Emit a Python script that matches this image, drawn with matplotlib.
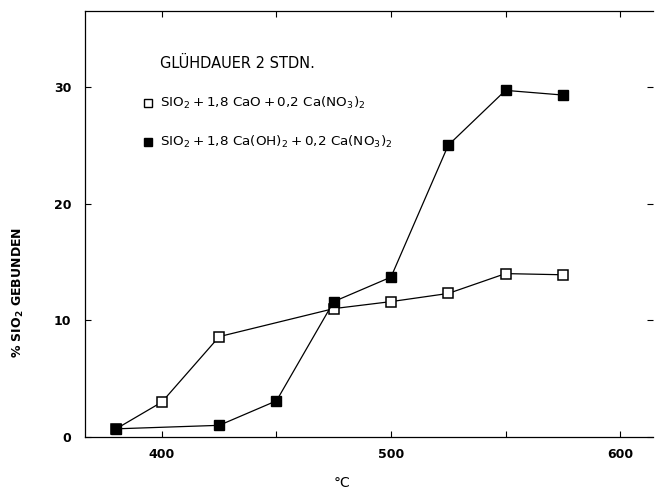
import matplotlib
matplotlib.use("Agg")
import matplotlib.pyplot as plt
from matplotlib.ticker import MultipleLocator

# Glow temperature (°C) and percentage of bound SiO2
temp_cao = [380, 400, 425, 475, 500, 525, 550, 575]
sio2_cao = [0.7, 3.0, 8.6, 11.0, 11.6, 12.3, 14.0, 13.9]

temp_caoh = [380, 425, 450, 475, 500, 525, 550, 575]
sio2_caoh = [0.7, 1.0, 3.1, 11.6, 13.7, 25.0, 29.7, 29.3]

x_ticks = [400, 500, 600]
y_ticks = [0, 10, 20, 30]

title_text = "GLÜHDAUER 2 STDN."
label_cao = r"$\mathregular{SIO_2 + 1{,}8\ CaO + 0{,}2\ Ca(NO_3)_2}$"
label_caoh = r"$\mathregular{SIO_2 + 1{,}8\ Ca(OH)_2 + 0{,}2\ Ca(NO_3)_2}$"

plt.rcParams["font.family"] = ["DejaVu Sans"]

fig = plt.figure(figsize=(6.55, 4.94), dpi=100)
ax = fig.add_axes([85 / 655, 1 - 437 / 494, (653 - 85) / 655, (437 - 11) / 494])

ax.plot(temp_cao, sio2_cao, color="black", lw=0.9, marker="s", ms=6.5,
        mfc="white", mec="black", mew=1.1, zorder=3)
ax.plot(temp_caoh, sio2_caoh, color="black", lw=0.9, marker="s", ms=6.5,
        mfc="black", mec="black", zorder=4)

ax.set_xlim(366.4, 614.4)
ax.set_ylim(0, 36.5)
ax.set_xticks(x_ticks)
ax.set_yticks(y_ticks)
ax.xaxis.set_minor_locator(MultipleLocator(50))

ax.tick_params(axis="both", which="both", direction="in", length=4,
               width=0.8, top=True, right=True, labelsize=9)
ax.tick_params(axis="x", pad=8)
ax.tick_params(axis="y", pad=10)
for lab in ax.get_xticklabels() + ax.get_yticklabels():
    lab.set_fontweight("bold")

ax.spines["right"].set_visible(False)
for side in ("left", "bottom", "top"):
    ax.spines[side].set_linewidth(0.9)

ax.set_xlabel("°C", fontsize=10, va="center")
ax.xaxis.set_label_coords((342 - 85) / (653 - 85), -(483 - 437) / (437 - 11))
ax.set_ylabel(r"% $\mathregular{SIO_2}$ GEBUNDEN", fontsize=9, fontweight="bold",
              va="center")
ax.yaxis.set_label_coords(-(85 - 18) / (653 - 85), (437 - 292) / (437 - 11))


# Hand-drawn style key inside the plot
def px(x, y):
    return fig.transFigure.inverted().transform(
        fig.dpi_scale_trans.transform((x / 100, (494 - y) / 100)))


tx, ty = px(160, 63)
fig.text(tx, ty, title_text, fontsize=10.5, va="center", ha="left")

mx, my = px(148, 103)
ax.plot([mx], [my], transform=fig.transFigure, marker="s", ms=5.5,
        mfc="white", mec="black", mew=1.0, ls="none")
lx, ly = px(160, 103)
fig.text(lx, ly, label_cao, fontsize=9.7, va="center", ha="left")

mx, my = px(148, 142)
ax.plot([mx], [my], transform=fig.transFigure, marker="s", ms=5.5,
        mfc="black", mec="black", ls="none")
lx, ly = px(160, 142)
fig.text(lx, ly, label_caoh, fontsize=9.7, va="center", ha="left")

fig.savefig("out.png", dpi=100)
